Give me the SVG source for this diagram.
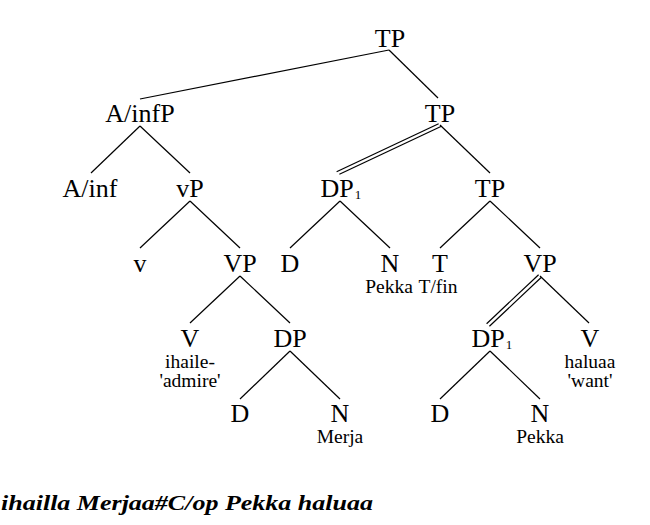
<svg xmlns="http://www.w3.org/2000/svg" width="650" height="525" viewBox="0 0 650 525">
<style>
.n{font-family:"Liberation Serif","Times New Roman",serif;font-size:26px;fill:#000;text-anchor:middle}
.s{font-family:"Liberation Serif","Times New Roman",serif;font-size:19.5px;fill:#000;text-anchor:middle}
.sub{font-size:13px}
.e line{stroke:#000;stroke-width:1.2}
.cap{font-family:"Liberation Serif","Times New Roman",serif;font-size:22px;font-style:italic;font-weight:bold;fill:#000}
</style>
<rect width="650" height="525" fill="#fff"/>
<g class="e" id="connectors">
<line x1="389" y1="50" x2="140" y2="99"/>
<line x1="389" y1="50" x2="438" y2="98"/>
<line x1="140" y1="126" x2="91" y2="173"/>
<line x1="140" y1="126" x2="190" y2="173"/>
<line x1="438.6" y1="123.7" x2="336.6" y2="171.7"/>
<line x1="441.4" y1="126.3" x2="339.4" y2="174.3"/>
<line x1="440" y1="125" x2="490" y2="173"/>
<line x1="190" y1="201" x2="140" y2="248"/>
<line x1="190" y1="201" x2="240" y2="248"/>
<line x1="340" y1="201" x2="290" y2="248"/>
<line x1="340" y1="201" x2="390" y2="248"/>
<line x1="490" y1="201" x2="440" y2="248"/>
<line x1="490" y1="201" x2="540" y2="248"/>
<line x1="240" y1="276" x2="190" y2="323"/>
<line x1="240" y1="276" x2="290" y2="323"/>
<line x1="538.6" y1="274.7" x2="486.6" y2="323.7"/>
<line x1="541.4" y1="277.3" x2="489.4" y2="326.3"/>
<line x1="540" y1="276" x2="589" y2="323"/>
<line x1="290" y1="351" x2="240" y2="399"/>
<line x1="290" y1="351" x2="340" y2="399"/>
<line x1="490" y1="351" x2="440" y2="399"/>
<line x1="490" y1="351" x2="540" y2="399"/>
</g>
<g id="tp1"><text class="n" x="390" y="47">TP</text></g>
<g id="ainfp"><text class="n" x="140" y="122">A/infP</text></g>
<g id="tp2"><text class="n" x="440" y="122">TP</text></g>
<g id="ainf"><text class="n" x="90" y="197">A/inf</text></g>
<g id="vp-small"><text class="n" x="190" y="197">vP</text></g>
<g id="dp1a"><text class="n" x="337" y="197">DP</text><text class="n sub" x="358" y="199">1</text></g>
<g id="tp3"><text class="n" x="490" y="197">TP</text></g>
<g id="v-small"><text class="n" x="140" y="272">v</text></g>
<g id="vp1"><text class="n" x="240" y="272">VP</text></g>
<g id="d1"><text class="n" x="290" y="272">D</text></g>
<g id="n1"><text class="n" x="390" y="272">N</text><text class="s" x="389" y="293">Pekka</text></g>
<g id="t"><text class="n" x="440" y="272">T</text><text class="s" x="438" y="293">T/fin</text></g>
<g id="vp2"><text class="n" x="540" y="272">VP</text></g>
<g id="v1"><text class="n" x="190" y="347">V</text><text class="s" x="190" y="368">ihaile-</text><text class="s" x="190" y="387">'admire'</text></g>
<g id="dp"><text class="n" x="290" y="347">DP</text></g>
<g id="dp1b"><text class="n" x="488" y="347">DP</text><text class="n sub" x="509" y="349">1</text></g>
<g id="v2"><text class="n" x="590" y="347">V</text><text class="s" x="590" y="368">haluaa</text><text class="s" x="590" y="387">'want'</text></g>
<g id="d2"><text class="n" x="240" y="422">D</text></g>
<g id="n2"><text class="n" x="340" y="422">N</text><text class="s" x="340" y="443">Merja</text></g>
<g id="d3"><text class="n" x="440" y="422">D</text></g>
<g id="n3"><text class="n" x="540" y="422">N</text><text class="s" x="540" y="443">Pekka</text></g>
<g id="caption"><text class="cap" x="1" y="510" textLength="372" lengthAdjust="spacingAndGlyphs">ihailla Merjaa#C/op Pekka haluaa</text></g>
</svg>
